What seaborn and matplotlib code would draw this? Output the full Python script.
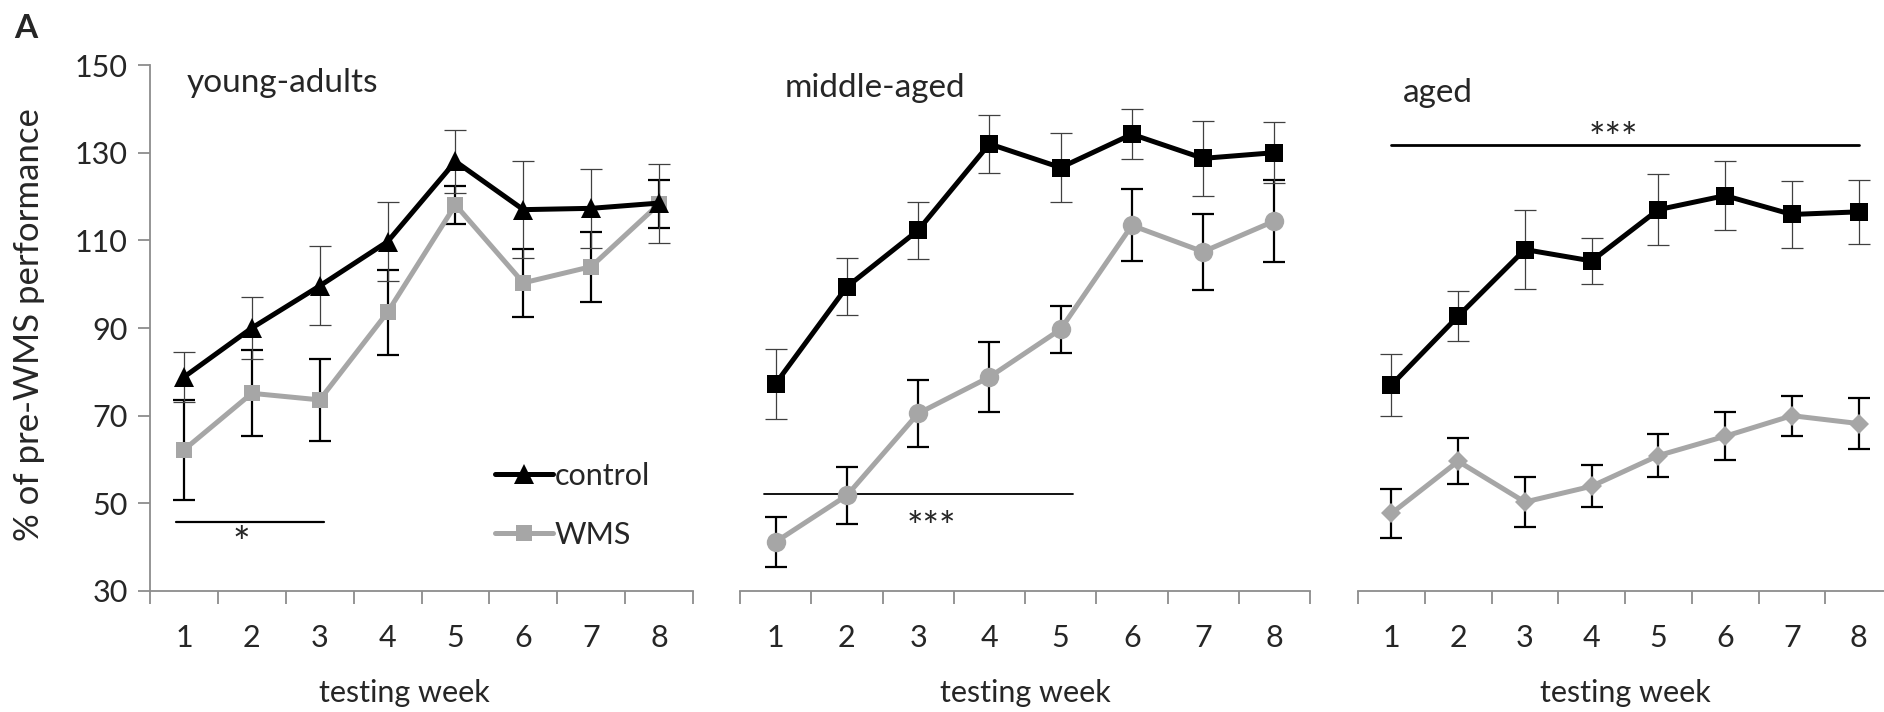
import matplotlib
matplotlib.use("Agg")
import matplotlib.pyplot as plt
import seaborn as sns
import pandas as pd
import numpy as np
from matplotlib.lines import Line2D

weeks = [1, 2, 3, 4, 5, 6, 7, 8]
groups = ["control", "WMS"]
panel_titles = ["young-adults", "middle-aged", "aged"]
yticks = [30, 50, 70, 90, 110, 130, 150]

young_control = [78.8, 90.0, 99.6, 109.7, 128.0, 117.0, 117.3, 118.5]
young_control_err = [5.7, 7.0, 9.0, 9.0, 7.2, 11.0, 9.0, 9.0]
young_wms = [62.2, 75.1, 73.6, 93.6, 118.1, 100.3, 104.0, 118.3]
young_wms_err = [11.4, 9.8, 9.4, 9.7, 4.3, 7.8, 8.0, 5.4]

middle_control = [77.3, 99.4, 112.3, 132.0, 126.6, 134.2, 128.7, 130.0]
middle_control_err = [8.0, 6.5, 6.5, 6.6, 7.8, 5.7, 8.6, 7.0]
middle_wms = [41.2, 51.8, 70.5, 78.8, 89.7, 113.4, 107.4, 114.4]
middle_wms_err = [5.7, 6.5, 7.7, 8.0, 5.3, 8.2, 8.7, 9.4]

aged_control = [77.0, 92.7, 107.9, 105.3, 117.0, 120.2, 115.9, 116.5]
aged_control_err = [7.0, 5.7, 9.0, 5.3, 8.1, 7.8, 7.6, 7.3]
aged_wms = [47.7, 59.6, 50.3, 53.9, 60.9, 65.3, 70.0, 68.2]
aged_wms_err = [5.6, 5.2, 5.6, 4.8, 5.0, 5.5, 4.6, 5.8]

sig_labels = ["*", "***", "***"]

sns.set_style("white")
plt.rcParams["font.family"] = ["Lato", "DejaVu Sans"]

W, H = 1884, 712
fig = plt.figure(figsize=(W / 100, H / 100), dpi=100)

def fx(px):
    return px / W

def fy(py):
    return 1 - py / H

y_top, y_bot = 65, 591
panels_px = [(150, 693), (740, 1310), (1358, 1892)]

CTRL = "black"
GRAY = "#a6a6a6"
SPINE = "#8c8c8c"

datasets = [
    (young_control, young_control_err, young_wms, young_wms_err, "^", "s", 14, 12),
    (middle_control, middle_control_err, middle_wms, middle_wms_err, "s", "o", 13, 14),
    (aged_control, aged_control_err, aged_wms, aged_wms_err, "s", "D", 13, 10),
]

title_pos = [(1.04, 143.8), (1.13, 142.6), (1.17, 141.5)]
xlabel_x = [0.468, 0.5, 0.5]

axes = []
for i, ((l, r), (c, ce, w, we, mc, mw, msc, msw)) in enumerate(zip(panels_px, datasets)):
    ax = fig.add_axes([fx(l), fy(y_bot), fx(r - l), fy(y_top) - fy(y_bot)])
    ax.patch.set_alpha(0)
    df = pd.DataFrame({
        "week": weeks * 2,
        "value": list(c) + list(w),
        "group": [groups[0]] * 8 + [groups[1]] * 8,
    })
    ax.errorbar(weeks, w, yerr=we, fmt="none", ecolor="black", elinewidth=1.6,
                capsize=8, capthick=1.6, zorder=2)
    ax.errorbar(weeks, c, yerr=ce, fmt="none", ecolor="#404040", elinewidth=0.9,
                capsize=8, capthick=0.9, zorder=2)
    sns.lineplot(data=df[df.group == "WMS"], x="week", y="value", ax=ax,
                 color=GRAY, lw=3.6, marker=mw, markersize=msw, markeredgewidth=0,
                 markerfacecolor=GRAY, zorder=3, legend=False)
    sns.lineplot(data=df[df.group == "control"], x="week", y="value", ax=ax,
                 color=CTRL, lw=3.6, marker=mc, markersize=msc, markeredgewidth=0,
                 markerfacecolor=CTRL, zorder=4, legend=False)
    ax.set_xlim(0.5, 8.5)
    ax.set_ylim(30, 150)
    ax.set_xlabel("testing week", fontsize=22)
    ax.xaxis.set_label_coords(xlabel_x[i], -0.168)
    ax.set_ylabel("")
    ax.set_xticks(weeks)
    ax.set_xticklabels([str(x) for x in weeks], fontsize=22)
    ax.set_xticks(np.arange(0.5, 9.0, 1.0), minor=True)
    ax.tick_params(axis="x", which="major", length=0, pad=24)
    ax.tick_params(axis="x", which="minor", length=9, width=1.3, color=SPINE, direction="out", bottom=True)
    for s in ["top", "right"]:
        ax.spines[s].set_visible(False)
    ax.spines["bottom"].set_color(SPINE)
    ax.spines["bottom"].set_linewidth(1.3)
    if i == 0:
        ax.set_yticks(yticks)
        ax.set_yticklabels([str(v) for v in yticks], fontsize=22)
        ax.tick_params(axis="y", length=9, width=1.3, color=SPINE, direction="out", left=True, pad=7)
        ax.spines["left"].set_color(SPINE)
        ax.spines["left"].set_linewidth(1.3)
    else:
        ax.spines["left"].set_visible(False)
        ax.set_yticks([])
    tx, ty = title_pos[i]
    ax.text(tx, ty, panel_titles[i], fontsize=24, ha="left", va="baseline")
    axes.append(ax)

# significance markers
ax1, ax2, ax3 = axes
ax1.plot([0.88, 3.06], [45.8, 45.8], color="black", lw=1.6, clip_on=False)
ax1.text(1.84, 40.4, sig_labels[0], fontsize=30, ha="center", va="center")
ax2.plot([0.84, 5.17], [52.1, 52.1], color="black", lw=1.3, clip_on=False)
ax2.text(3.19, 44.2, sig_labels[1], fontsize=28, ha="center", va="center")
ax3.plot([1.0, 8.0], [131.7, 131.7], color="black", lw=2.0, clip_on=False)
ax3.text(4.33, 133.0, sig_labels[2], fontsize=28, ha="center", va="center")

# legend
handles = [
    Line2D([], [], color=CTRL, lw=3.6, marker="^", markersize=14, markeredgewidth=0),
    Line2D([], [], color=GRAY, lw=3.6, marker="s", markersize=12, markeredgewidth=0),
]
ax1.legend(handles, groups, loc="upper left", bbox_to_anchor=(0.635, 0.245),
           frameon=False, fontsize=22, handlelength=1.9, handletextpad=0.05,
           borderpad=0, borderaxespad=0, labelspacing=1.0)

fig.text(fx(29), fy(325), "% of pre-WMS performance", rotation=90, fontsize=25,
         ha="center", va="center")
fig.text(fx(14), fy(28), "A", fontsize=24, fontweight="bold", ha="left", va="center")

fig.savefig("out.png", dpi=100)
